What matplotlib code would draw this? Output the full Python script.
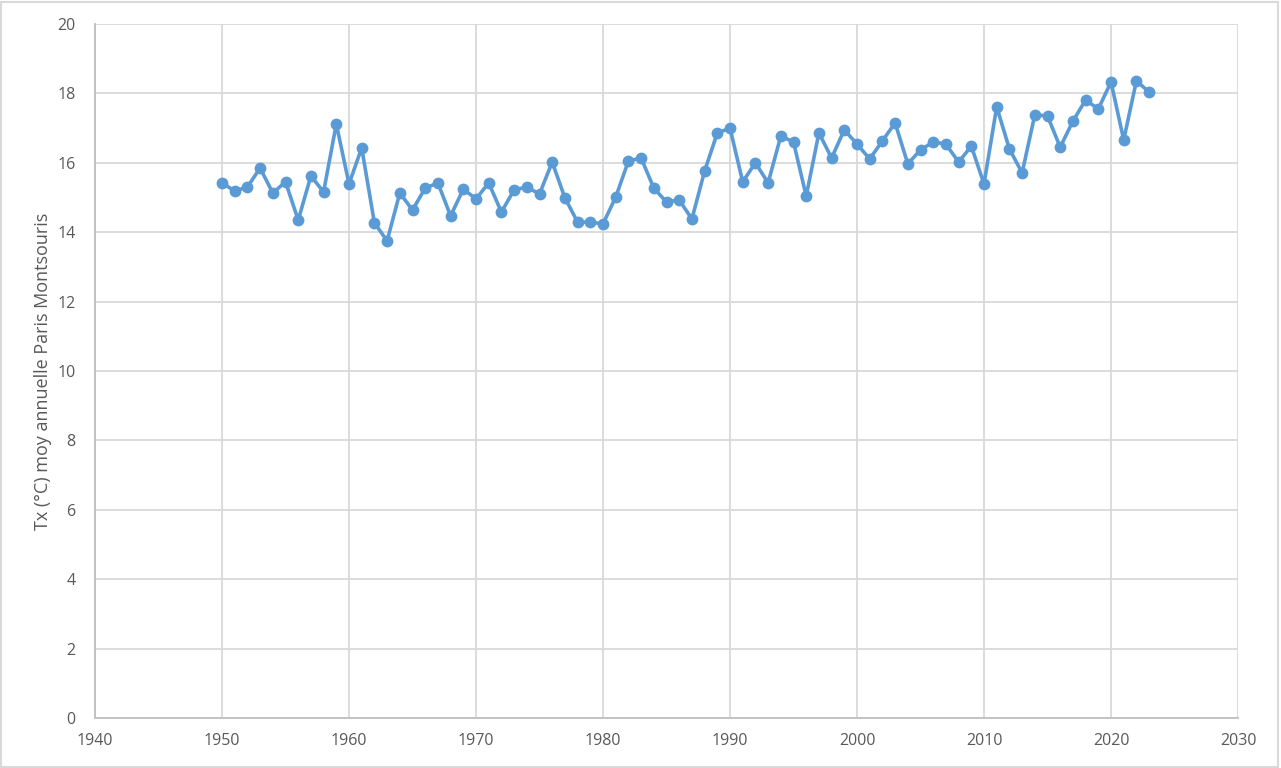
import matplotlib
matplotlib.use("Agg")
import matplotlib.pyplot as plt
from matplotlib.patches import Rectangle

years = list(range(1950, 2024))
tx = [15.42, 15.19, 15.30, 15.85, 15.13, 15.45, 14.35, 15.62, 15.16, 17.12,
      15.39, 16.43, 14.27, 13.75, 15.13, 14.64, 15.27, 15.42, 14.47, 15.24,
      14.96, 15.42, 14.58, 15.22, 15.30, 15.10, 16.02, 14.99, 14.29, 14.29,
      14.24, 15.01, 16.05, 16.14, 15.27, 14.87, 14.93, 14.38, 15.76, 16.86,
      17.00, 15.45, 16.00, 15.42, 16.77, 16.60, 15.04, 16.86, 16.14, 16.95,
      16.54, 16.11, 16.63, 17.15, 15.97, 16.37, 16.60, 16.54, 16.02, 16.48,
      15.39, 17.61, 16.40, 15.71, 17.38, 17.35, 16.45, 17.20, 17.81, 17.55,
      18.33, 16.66, 18.36, 18.04]
x_ticks = list(range(1940, 2031, 10))
y_ticks = list(range(0, 21, 2))
y_label = "Tx (°C) moy annuelle Paris Montsouris"

plt.rcParams['font.family'] = ['Open Sans', 'DejaVu Sans']

fig = plt.figure(figsize=(12.81, 7.68), dpi=100)
ax = fig.add_axes([95/1281, 50/768, (1238-95)/1281, (718-24)/768])

color = '#5B9BD5'
ax.plot(years, tx, color=color, linewidth=2.6, marker='o', markersize=8.5,
        markeredgewidth=0, zorder=3)

ax.set_xlim(1940, 2030)
ax.set_ylim(0, 20)
ax.set_xticks(x_ticks)
ax.set_yticks(y_ticks)
ax.grid(True, color='#D9D9D9', linewidth=1.3, zorder=0)
ax.set_axisbelow(True)
for s in ['top', 'right']:
    ax.spines[s].set_visible(False)
for s in ['left', 'bottom']:
    ax.spines[s].set_color('#BFBFBF')
    ax.spines[s].set_linewidth(1.3)
ax.tick_params(axis='both', length=0, labelsize=11.5, labelcolor='#595959')
ax.tick_params(axis='x', pad=11)
ax.tick_params(axis='y', pad=14)
ax.set_ylabel(y_label, fontsize=13, color='#595959', labelpad=4)

fig.patches.append(Rectangle((0.001, 0.001), 0.997, 0.997, transform=fig.transFigure,
                             fill=False, edgecolor='#D9D9D9', linewidth=1.5))

fig.savefig('out.png', dpi=100)
